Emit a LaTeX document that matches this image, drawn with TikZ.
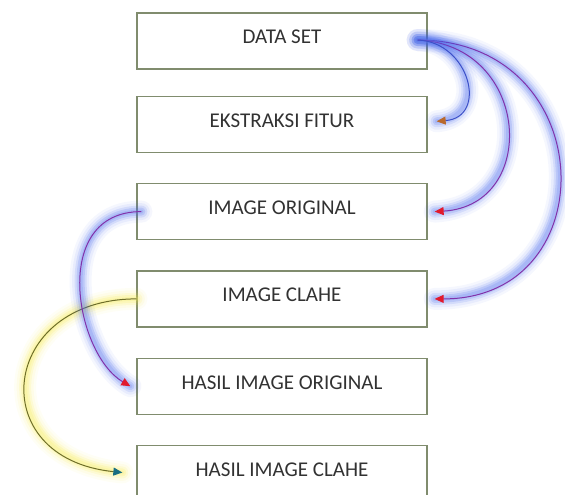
\documentclass[tikz,border=0pt]{standalone}
\usepackage{fontspec}
\setmainfont{Carlito}
\usetikzlibrary{arrows.meta, positioning}

\definecolor{boxline}{RGB}{128,140,110}
\definecolor{textgray}{RGB}{50,50,50}
\definecolor{glowblue}{RGB}{60,95,235}
\definecolor{glowyellow}{RGB}{245,232,60}
\definecolor{lineblue}{RGB}{60,80,200}
\definecolor{linepurple}{RGB}{130,50,170}
\definecolor{lineolive}{RGB}{110,110,40}
\definecolor{tipbrown}{RGB}{185,105,45}
\definecolor{tipred}{RGB}{225,25,45}
\definecolor{tipteal}{RGB}{25,110,130}

\tikzset{
  stepbox/.style={draw=boxline, line width=1.3pt, fill=white,
    minimum width=290pt, minimum height=56pt, text depth=8pt,
    font=\fontsize{21}{24}\selectfont, text=textgray},
  % soft halo behind a connector
  halo/.style={
    preaction={draw=#1, -, line cap=round, line width=22pt, opacity=0.05},
    preaction={draw=#1, -, line cap=round, line width=17pt, opacity=0.07},
    preaction={draw=#1, -, line cap=round, line width=12pt, opacity=0.12},
    preaction={draw=#1, -, line cap=round, line width=8pt, opacity=0.16},
    preaction={draw=#1!80!white, -, line cap=round, line width=4pt, opacity=0.22}},
  link/.style={line width=1pt, -{Triangle[length=9pt, width=8pt, color=#1]}}
}

\begin{document}
\begin{tikzpicture}[x=1pt, y=-1pt]

    \useasboundingbox (0,0) rectangle (565,495);

    % Draw the boxes
    \node[stepbox] (data) at (282,41) {DATA SET};
    \node[stepbox, below=26pt of data] (ekstraksi) {EKSTRAKSI FITUR};
    \node[stepbox, below=30pt of ekstraksi] (imgori) {IMAGE ORIGINAL};
    \node[stepbox, below=30pt of imgori] (imgclahe) {IMAGE CLAHE};
    \node[stepbox, below=30pt of imgclahe] (hasilori) {HASIL IMAGE ORIGINAL};
    \node[stepbox, below=30pt of hasilori] (hasilclahe) {HASIL IMAGE CLAHE};

    % Arcs on the right, out of the data set
    \draw[halo=glowblue, link=tipred, draw=linepurple]
        ([xshift=-10pt,yshift=1pt]data.east) .. controls +(183,0) and +(173,0) .. ([xshift=7pt]imgclahe.east);
    \draw[halo=glowblue, link=tipred, draw=linepurple]
        ([xshift=-10pt,yshift=1pt]data.east) .. controls +(113,5) and +(105,-6) .. ([xshift=7pt]imgori.east);
    \draw[halo=glowblue, link=tipbrown, draw=lineblue]
        ([xshift=-10pt,yshift=1pt]data.east) .. controls +(52,2) and +(52,-4) .. ([xshift=9pt,yshift=3pt]ekstraksi.east);

    % Arcs on the left, to the results
    \draw[halo=glowyellow, link=tipteal, draw=lineolive]
        (imgclahe.west) .. controls +(-137,0) and +(-140,-14) .. ([xshift=-14pt,yshift=1pt]hasilclahe.west);
    \draw[halo=glowblue, link=tipred, draw=linepurple]
        ([xshift=5pt]imgori.west) .. controls +(-92,0) and +(-55,-32) .. ([xshift=-6pt]hasilori.west);

\end{tikzpicture}
\end{document}
